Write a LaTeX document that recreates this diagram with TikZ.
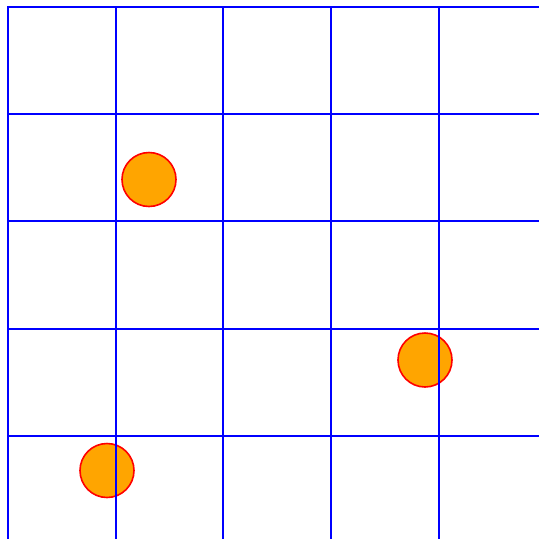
\documentclass[tikz,border=0pt]{standalone}
\begin{document}
\begin{tikzpicture}[x=1pt,y=-1pt,
  gridline/.style={draw=blue, line width=2pt},
  dot/.style={circle, draw=red, line width=1.6pt, fill={rgb,255:red,255;green,165;blue,0}, minimum size=54pt, inner sep=0pt}]
\useasboundingbox (0,0) rectangle (539,539);
\fill[white] (0,0) rectangle (539,539);
\node[dot] (c1) at (149,179.5) {};
\node[dot] (c2) at (425,360) {};
\node[dot] (c3) at (107,470.5) {};
\foreach \x in {8,116,223,331,439} {
  \draw[gridline] (\x,6) -- (\x,545);
}
\foreach \y in {7,114,221,329,436} {
  \draw[gridline] (7,\y) -- (545,\y);
}
\end{tikzpicture}
\end{document}
